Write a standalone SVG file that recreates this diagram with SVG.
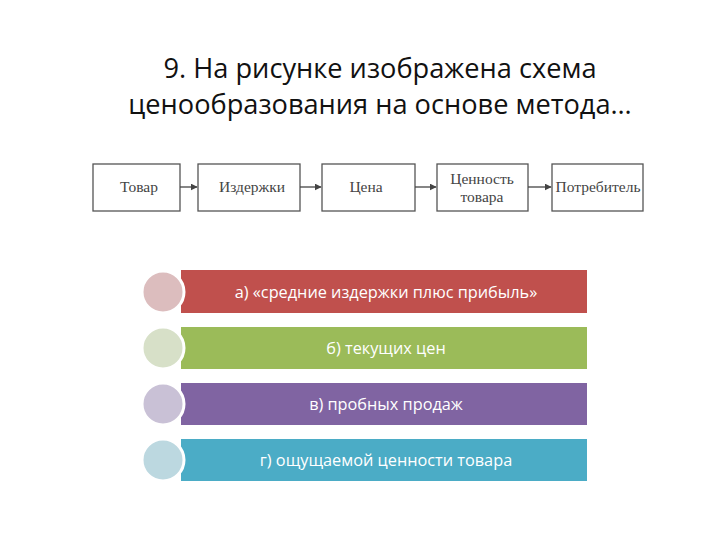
<svg xmlns="http://www.w3.org/2000/svg" width="720" height="540" viewBox="0 0 720 540">
<defs>
<style>
.title{font-family:"Open Sans","Liberation Sans",sans-serif;font-size:27.2px;fill:#111;text-anchor:middle}
.box rect{fill:#fff;stroke:#555;stroke-width:1.3}
.box text{font-family:"Liberation Serif",serif;font-size:15.5px;fill:#444;text-anchor:middle}
.conn line{stroke:#444;stroke-width:1.3;marker-end:url(#ah)}
.opt text{font-family:"Open Sans","Liberation Sans",sans-serif;font-size:16.3px;fill:#fff;text-anchor:middle}
.opt circle{stroke:#fff;stroke-width:3}
</style>
<marker id="ah" viewBox="0 0 10 10" refX="9" refY="5" markerWidth="7" markerHeight="7" markerUnits="userSpaceOnUse" orient="auto">
<path d="M0,0 L10,5 L0,10 z" fill="#444"/>
</marker>
</defs>
<rect width="720" height="540" fill="#fff"/>
<text class="title" x="380" y="78">9. На рисунке изображена схема</text>
<text class="title" x="380" y="114">ценообразования на основе метода…</text>

<g id="n1" class="box"><rect x="93" y="164" width="87" height="47"/><text x="139" y="192">Товар</text></g>
<g id="n2" class="box"><rect x="198" y="164" width="102" height="47"/><text x="252" y="192">Издержки</text></g>
<g id="n3" class="box"><rect x="322" y="164" width="93" height="47"/><text x="366" y="192">Цена</text></g>
<g id="n4" class="box"><rect x="437" y="164" width="91" height="47"/><text x="482" y="184">Ценность</text><text x="482" y="202">товара</text></g>
<g id="n5" class="box"><rect x="552" y="164" width="91" height="47"/><text x="598" y="192">Потребитель</text></g>

<g id="connectors" class="conn">
<line x1="180" y1="187" x2="197" y2="187"/>
<line x1="300" y1="187" x2="321" y2="187"/>
<line x1="415" y1="187" x2="436" y2="187"/>
<line x1="528" y1="187" x2="551" y2="187"/>
</g>

<g id="opt-a" class="opt"><rect x="181" y="270" width="406" height="43" fill="#c0504d"/><circle cx="163" cy="292" r="21" fill="#dcbdbe"/><text x="386" y="298">а) «средние издержки плюс прибыль»</text></g>
<g id="opt-b" class="opt"><rect x="181" y="327" width="406" height="42" fill="#9bbb59"/><circle cx="163" cy="348" r="21" fill="#d7e0c8"/><text x="386" y="354">б) текущих цен</text></g>
<g id="opt-c" class="opt"><rect x="181" y="383" width="406" height="42" fill="#8064a2"/><circle cx="163" cy="404" r="21" fill="#c9c1d6"/><text x="386" y="410">в) пробных продаж</text></g>
<g id="opt-d" class="opt"><rect x="181" y="439" width="406" height="42" fill="#4bacc6"/><circle cx="163" cy="460" r="21" fill="#bcd8e0"/><text x="386" y="466">г) ощущаемой ценности товара</text></g>
</svg>
